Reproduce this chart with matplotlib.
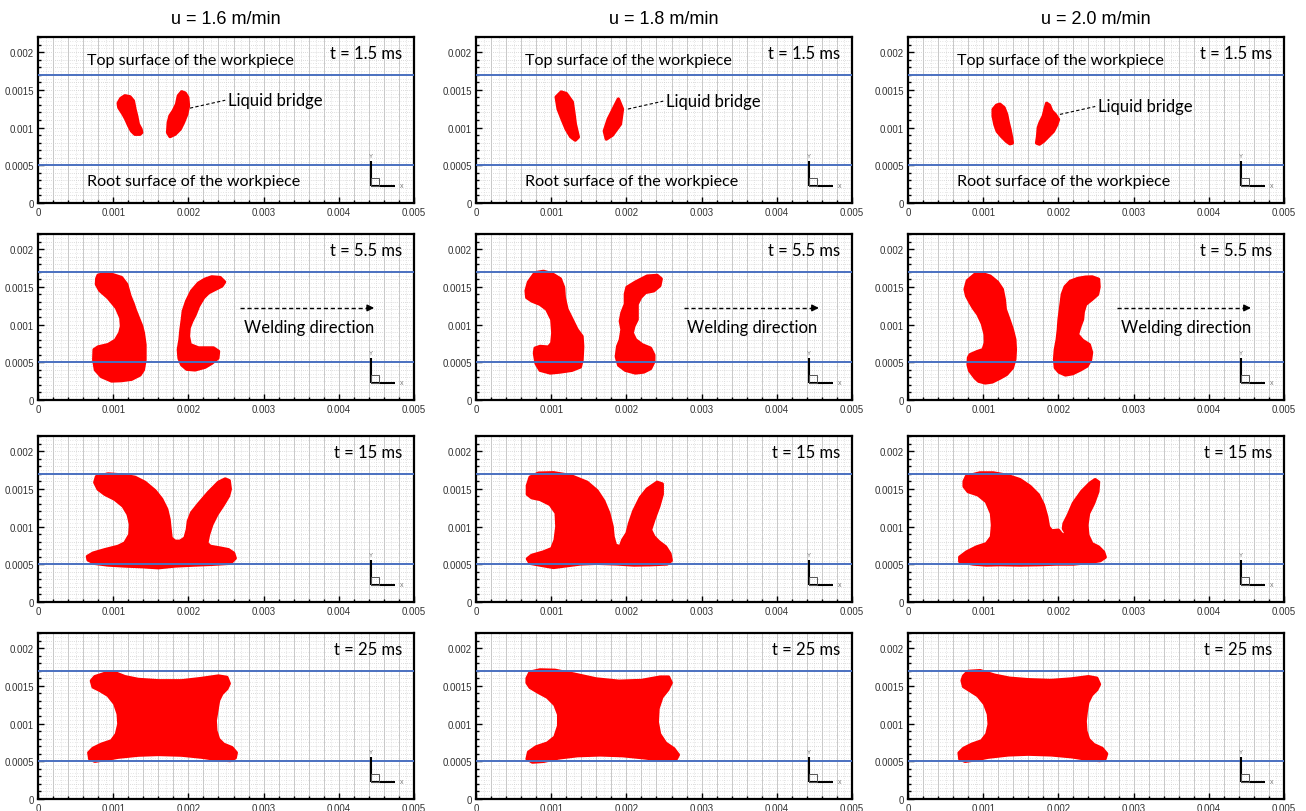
import numpy as np
import matplotlib
matplotlib.use("Agg")
import matplotlib.pyplot as plt
from matplotlib.patches import Polygon, Rectangle
from matplotlib.ticker import FixedLocator, FixedFormatter, MultipleLocator

# ---------------------------------------------------------------------------
# Data
# ---------------------------------------------------------------------------
speeds = ["u = 1.6 m/min", "u = 1.8 m/min", "u = 2.0 m/min"]
times = ["t = 1.5 ms", "t = 5.5 ms", "t = 15 ms", "t = 25 ms"]

x_tick_values = [0, 0.001, 0.002, 0.003, 0.004, 0.005]
x_tick_labels = ["0", "0.001", "0.002", "0.003", "0.004", "0.005"]
y_tick_values = [0, 0.0005, 0.001, 0.0015, 0.002]
y_tick_labels = ["0", "0.0005", "0.001", "0.0015", "0.002"]

top_surface = 0.0017    # m
root_surface = 0.0005   # m

# Molten-pool outlines (x, y) in mm, one list of blobs per panel
u16_t1_5 = [
    [(1.156, 1.420), (1.222, 1.407), (1.267, 1.354), (1.289, 1.243), (1.311, 1.155),
     (1.333, 1.044), (1.369, 0.978), (1.378, 0.934), (1.356, 0.912), (1.289, 0.912),
     (1.244, 0.956), (1.209, 1.022), (1.169, 1.111), (1.133, 1.177), (1.076, 1.265),
     (1.067, 1.323), (1.102, 1.385)],
    [(1.911, 1.473), (1.956, 1.456), (1.991, 1.398), (2.000, 1.288), (1.978, 1.177),
     (1.933, 1.066), (1.889, 0.978), (1.822, 0.912), (1.756, 0.881), (1.724, 0.934),
     (1.733, 1.066), (1.756, 1.155), (1.800, 1.221), (1.844, 1.310), (1.867, 1.420)],
]
u16_t5_5 = [
    [(0.800, 1.653), (0.889, 1.676), (1.000, 1.658), (1.111, 1.622), (1.178, 1.533),
     (1.222, 1.378), (1.267, 1.267), (1.289, 1.200), (1.333, 1.089), (1.378, 0.978),
     (1.400, 0.889), (1.422, 0.733), (1.422, 0.533), (1.400, 0.400), (1.356, 0.333),
     (1.244, 0.276), (1.111, 0.258), (0.978, 0.253), (0.844, 0.311), (0.764, 0.400),
     (0.742, 0.533), (0.747, 0.667), (0.800, 0.702), (0.933, 0.733), (1.031, 0.791),
     (1.089, 0.889), (1.111, 0.978), (1.102, 1.089), (1.044, 1.222), (0.933, 1.356),
     (0.822, 1.453), (0.778, 1.533), (0.782, 1.609)],
    [(2.311, 1.631), (2.422, 1.622), (2.480, 1.564), (2.444, 1.511), (2.356, 1.467),
     (2.267, 1.422), (2.200, 1.356), (2.133, 1.244), (2.089, 1.133), (2.044, 1.044),
     (2.009, 0.956), (2.000, 0.844), (2.022, 0.733), (2.133, 0.689), (2.333, 0.689),
     (2.400, 0.644), (2.391, 0.556), (2.311, 0.489), (2.222, 0.436), (2.089, 0.400),
     (1.978, 0.409), (1.911, 0.467), (1.876, 0.556), (1.867, 0.667), (1.889, 0.800),
     (1.902, 0.933), (1.920, 1.067), (1.933, 1.178), (1.978, 1.311), (2.044, 1.444),
     (2.133, 1.547), (2.222, 1.600)],
]
u16_t15 = [
    [(0.778, 1.661), (0.933, 1.696), (1.111, 1.683), (1.289, 1.652), (1.422, 1.585),
     (1.556, 1.473), (1.644, 1.362), (1.711, 1.228), (1.742, 1.094), (1.756, 0.960),
     (1.769, 0.848), (1.822, 0.804), (1.889, 0.804), (1.956, 0.848), (1.987, 0.960),
     (2.000, 1.071), (2.044, 1.183), (2.133, 1.295), (2.267, 1.451), (2.400, 1.585),
     (2.489, 1.629), (2.542, 1.607), (2.556, 1.496), (2.533, 1.406), (2.467, 1.295),
     (2.378, 1.161), (2.311, 1.027), (2.267, 0.893), (2.244, 0.781), (2.289, 0.737),
     (2.422, 0.714), (2.533, 0.692), (2.600, 0.647), (2.622, 0.580), (2.578, 0.536),
     (2.533, 0.513), (2.311, 0.500), (2.089, 0.491), (1.822, 0.478), (1.600, 0.455),
     (1.378, 0.469), (1.156, 0.478), (0.933, 0.491), (0.756, 0.513), (0.667, 0.558),
     (0.658, 0.603), (0.733, 0.647), (0.889, 0.692), (1.067, 0.737), (1.156, 0.781),
     (1.222, 0.893), (1.231, 1.027), (1.200, 1.161), (1.133, 1.272), (1.022, 1.362),
     (0.889, 1.429), (0.800, 1.496), (0.756, 1.585)],
]
u16_t25 = [
    [(0.756, 1.620), (0.933, 1.678), (1.022, 1.673), (1.156, 1.620), (1.333, 1.584),
     (1.600, 1.566), (1.911, 1.566), (2.178, 1.597), (2.400, 1.629), (2.511, 1.611),
     (2.542, 1.530), (2.511, 1.463), (2.444, 1.396), (2.400, 1.306), (2.378, 1.172),
     (2.356, 1.038), (2.364, 0.904), (2.400, 0.792), (2.467, 0.725), (2.578, 0.680),
     (2.636, 0.613), (2.622, 0.546), (2.556, 0.510), (2.400, 0.523), (2.178, 0.555),
     (1.911, 0.582), (1.600, 0.591), (1.333, 0.582), (1.067, 0.555), (0.889, 0.523),
     (0.756, 0.501), (0.689, 0.532), (0.676, 0.613), (0.733, 0.671), (0.844, 0.725),
     (0.978, 0.770), (1.044, 0.859), (1.076, 0.993), (1.067, 1.127), (1.022, 1.262),
     (0.933, 1.374), (0.822, 1.441), (0.733, 1.485), (0.711, 1.566)],
]

u18_t1_5 = [
    [(1.133, 1.470), (1.200, 1.450), (1.280, 1.338), (1.300, 1.200), (1.320, 1.046),
     (1.360, 0.874), (1.320, 0.834), (1.260, 0.880), (1.200, 0.980), (1.150, 1.100),
     (1.093, 1.245), (1.067, 1.404)],
    [(1.893, 1.377), (1.947, 1.245), (1.920, 1.046), (1.813, 0.900), (1.733, 0.848),
     (1.707, 0.954), (1.760, 1.113), (1.840, 1.272)],
]
u18_t5_5 = [
    [(0.787, 1.686), (0.898, 1.704), (1.009, 1.673), (1.120, 1.605), (1.164, 1.493),
     (1.173, 1.359), (1.209, 1.202), (1.276, 1.067), (1.342, 0.933), (1.409, 0.843),
     (1.418, 0.709), (1.409, 0.529), (1.387, 0.439), (1.276, 0.395), (1.120, 0.372),
     (0.987, 0.359), (0.853, 0.395), (0.800, 0.484), (0.778, 0.619), (0.787, 0.686),
     (0.853, 0.709), (0.964, 0.700), (1.009, 0.753), (1.022, 0.888), (1.009, 1.067),
     (0.942, 1.202), (0.853, 1.269), (0.742, 1.314), (0.676, 1.359), (0.667, 1.448),
     (0.698, 1.561)],
    [(2.276, 1.641), (2.409, 1.650), (2.462, 1.605), (2.444, 1.516), (2.364, 1.448),
     (2.253, 1.426), (2.187, 1.359), (2.142, 1.269), (2.142, 1.157), (2.142, 1.067),
     (2.098, 0.978), (2.076, 0.888), (2.120, 0.798), (2.209, 0.731), (2.320, 0.686),
     (2.364, 0.596), (2.364, 0.507), (2.320, 0.417), (2.231, 0.372), (2.120, 0.359),
     (1.987, 0.395), (1.898, 0.462), (1.867, 0.574), (1.884, 0.709), (1.920, 0.798),
     (1.942, 0.933), (1.920, 1.045), (1.942, 1.157), (1.987, 1.269), (1.987, 1.404),
     (2.009, 1.493), (2.120, 1.561)],
]
u18_t15 = [
    [(0.720, 1.653), (0.831, 1.707), (1.031, 1.712), (1.253, 1.676), (1.476, 1.586),
     (1.609, 1.473), (1.698, 1.338), (1.764, 1.180), (1.809, 1.000), (1.822, 0.865),
     (1.853, 0.752), (1.920, 0.730), (1.951, 0.820), (2.009, 0.910), (2.044, 1.045),
     (2.098, 1.203), (2.187, 1.383), (2.276, 1.495), (2.409, 1.586), (2.476, 1.563),
     (2.476, 1.428), (2.431, 1.270), (2.364, 1.090), (2.320, 0.955), (2.364, 0.865),
     (2.431, 0.797), (2.520, 0.730), (2.578, 0.640), (2.596, 0.550), (2.542, 0.505),
     (2.320, 0.495), (2.098, 0.491), (1.876, 0.505), (1.609, 0.514), (1.387, 0.505),
     (1.209, 0.482), (1.031, 0.459), (0.898, 0.482), (0.720, 0.514), (0.684, 0.572),
     (0.742, 0.617), (0.898, 0.662), (1.009, 0.707), (1.053, 0.820), (1.076, 1.000),
     (1.067, 1.180), (0.987, 1.293), (0.853, 1.360), (0.742, 1.383), (0.684, 1.428),
     (0.684, 1.541)],
]
u18_t25 = [
    [(0.680, 1.600), (0.720, 1.680), (0.850, 1.710), (1.050, 1.705), (1.300, 1.655),
     (1.600, 1.590), (1.900, 1.560), (2.200, 1.570), (2.450, 1.615), (2.560, 1.615),
     (2.595, 1.540), (2.550, 1.450), (2.470, 1.350), (2.420, 1.200), (2.410, 1.020),
     (2.440, 0.860), (2.520, 0.740), (2.630, 0.665), (2.690, 0.585), (2.655, 0.520),
     (2.500, 0.515), (2.250, 0.545), (1.950, 0.575), (1.650, 0.585), (1.350, 0.575),
     (1.100, 0.545), (0.900, 0.500), (0.750, 0.490), (0.680, 0.530), (0.700, 0.620),
     (0.800, 0.690), (0.950, 0.740), (1.050, 0.820), (1.100, 0.970), (1.100, 1.120),
     (1.050, 1.250), (0.950, 1.350), (0.820, 1.420), (0.720, 1.480), (0.680, 1.540)],
]

u20_t1_5 = [
    [(1.178, 1.295), (1.222, 1.308), (1.276, 1.263), (1.311, 1.174), (1.333, 1.063),
     (1.356, 0.973), (1.378, 0.862), (1.387, 0.795), (1.356, 0.786), (1.311, 0.817),
     (1.244, 0.884), (1.187, 0.951), (1.156, 1.040), (1.133, 1.152), (1.133, 1.241)],
    [(1.844, 1.321), (1.880, 1.295), (1.911, 1.219), (1.956, 1.174), (2.000, 1.107),
     (1.978, 1.040), (1.933, 0.951), (1.867, 0.884), (1.800, 0.817), (1.747, 0.781),
     (1.711, 0.795), (1.724, 0.884), (1.733, 0.996), (1.756, 1.063), (1.800, 1.152),
     (1.822, 1.241)],
]
u20_t5_5 = [
    [(0.893, 1.667), (1.000, 1.670), (1.093, 1.640), (1.190, 1.560), (1.253, 1.467),
     (1.280, 1.330), (1.293, 1.200), (1.340, 1.070), (1.387, 0.933), (1.420, 0.800),
     (1.427, 0.667), (1.420, 0.540), (1.387, 0.427), (1.310, 0.340), (1.227, 0.293),
     (1.120, 0.240), (1.027, 0.227), (0.940, 0.250), (0.893, 0.293), (0.820, 0.390),
     (0.800, 0.467), (0.805, 0.560), (0.827, 0.600), (0.920, 0.640), (1.000, 0.667),
     (1.030, 0.760), (1.027, 0.867), (0.990, 1.010), (0.933, 1.133), (0.870, 1.220),
     (0.827, 1.293), (0.780, 1.380), (0.760, 1.467), (0.790, 1.580)],
    [(2.360, 1.627), (2.450, 1.630), (2.533, 1.600), (2.540, 1.500), (2.520, 1.400),
     (2.440, 1.330), (2.360, 1.267), (2.330, 1.170), (2.320, 1.067), (2.280, 0.960),
     (2.253, 0.867), (2.320, 0.790), (2.410, 0.733), (2.440, 0.630), (2.427, 0.533),
     (2.380, 0.450), (2.293, 0.400), (2.190, 0.350), (2.093, 0.333), (2.010, 0.370),
     (1.960, 0.427), (1.950, 0.540), (1.960, 0.667), (1.985, 0.800), (2.000, 0.933),
     (2.010, 1.070), (2.027, 1.200), (2.053, 1.400), (2.090, 1.500), (2.160, 1.573),
     (2.260, 1.610)],
]
u20_t15 = [
    [(0.778, 1.665), (0.956, 1.710), (1.133, 1.710), (1.311, 1.679), (1.489, 1.621),
     (1.622, 1.531), (1.733, 1.420), (1.800, 1.286), (1.844, 1.129), (1.867, 0.996),
     (1.911, 0.942), (2.000, 0.951), (2.036, 0.906), (2.076, 0.875), (2.098, 0.920),
     (2.067, 0.973), (2.076, 1.040), (2.133, 1.152), (2.200, 1.308), (2.311, 1.464),
     (2.422, 1.576), (2.489, 1.621), (2.533, 1.589), (2.524, 1.464), (2.467, 1.308),
     (2.400, 1.174), (2.378, 1.018), (2.391, 0.884), (2.444, 0.772), (2.533, 0.728),
     (2.600, 0.661), (2.622, 0.594), (2.556, 0.549), (2.422, 0.527), (2.200, 0.504),
     (1.978, 0.504), (1.756, 0.496), (1.489, 0.491), (1.222, 0.496), (1.044, 0.491),
     (0.867, 0.504), (0.689, 0.536), (0.689, 0.594), (0.778, 0.661), (0.911, 0.728),
     (1.044, 0.772), (1.111, 0.862), (1.124, 1.018), (1.111, 1.174), (1.044, 1.330),
     (0.933, 1.420), (0.800, 1.464), (0.747, 1.531), (0.747, 1.598)],
]
u20_t25 = [
    [(0.740, 1.630), (0.800, 1.690), (0.960, 1.700), (1.150, 1.640), (1.350, 1.600),
     (1.600, 1.580), (1.900, 1.570), (2.170, 1.590), (2.400, 1.620), (2.510, 1.600),
     (2.545, 1.520), (2.510, 1.450), (2.440, 1.380), (2.390, 1.280), (2.370, 1.160),
     (2.355, 1.030), (2.364, 0.900), (2.400, 0.790), (2.470, 0.720), (2.580, 0.670),
     (2.640, 0.600), (2.620, 0.535), (2.550, 0.510), (2.400, 0.525), (2.180, 0.560),
     (1.910, 0.585), (1.600, 0.595), (1.333, 0.585), (1.067, 0.555), (0.889, 0.520),
     (0.760, 0.500), (0.690, 0.530), (0.680, 0.610), (0.740, 0.670), (0.850, 0.725),
     (0.980, 0.770), (1.050, 0.860), (1.080, 0.990), (1.070, 1.125), (1.020, 1.260),
     (0.930, 1.370), (0.820, 1.440), (0.740, 1.490), (0.720, 1.570)],
]

pools = [
    [u16_t1_5, u18_t1_5, u20_t1_5],
    [u16_t5_5, u18_t5_5, u20_t5_5],
    [u16_t15, u18_t15, u20_t15],
    [u16_t25, u18_t25, u20_t25],
]

# ---------------------------------------------------------------------------
# Layout / style
# ---------------------------------------------------------------------------
W, H = 1306, 812
col_left = [38, 476, 908]
col_width = 376
row_top = [38, 235, 437, 634]
row_height = 166

RED = "#ff0000"
BLUE = "#4a70c0"
GRID_SOLID = "#c8c8c8"
GRID_DOT = "#cfcfcf"
MM = 1e-3
ANNOT_FONT = ["Lato", "DejaVu Sans"]
TICK_FONT = ["Liberation Sans", "DejaVu Sans"]

fig = plt.figure(figsize=(W / 100, H / 100), dpi=100)


def style_axes(ax):
    ax.set_xlim(0, 0.005)
    ax.set_ylim(0, 0.0022)
    # background grid: solid every 0.2 mm / dotted in-between (x), dotted rows (y)
    for xv in np.arange(0.0002, 0.005, 0.0002):
        ax.axvline(xv, color=GRID_SOLID, lw=0.7, zorder=0)
    for xv in np.arange(0.0001, 0.005, 0.0002):
        ax.axvline(xv, color=GRID_DOT, lw=0.5, ls=(0, (1, 2)), zorder=0)
    for yv in np.arange(0.0001, 0.0022, 0.0001):
        ax.axhline(yv, color=GRID_DOT, lw=0.6, ls=(0, (1, 1.5)), zorder=0)
    for yv in np.arange(0.00005, 0.0022, 0.0001):
        ax.axhline(yv, color=GRID_DOT, lw=0.5, ls=(0, (1, 2.5)), zorder=0)

    ax.xaxis.set_major_locator(FixedLocator(x_tick_values))
    ax.xaxis.set_major_formatter(FixedFormatter(x_tick_labels))
    ax.yaxis.set_major_locator(FixedLocator(y_tick_values))
    ax.yaxis.set_major_formatter(FixedFormatter(y_tick_labels))
    ax.xaxis.set_minor_locator(MultipleLocator(0.0002))
    ax.yaxis.set_minor_locator(MultipleLocator(0.0001))
    ax.tick_params(which="both", direction="in", top=False, right=False,
                   color="black", width=1.0)
    ax.tick_params(which="major", length=4, labelsize=7, pad=3, labelcolor="#333333")
    ax.tick_params(which="minor", length=2.5)
    for lab in ax.get_xticklabels() + ax.get_yticklabels():
        lab.set_fontfamily(TICK_FONT)
    for sp in ax.spines.values():
        sp.set_linewidth(1.6)
        sp.set_color("black")


def draw_triad(ax):
    x0, y0 = 0.00443, 0.00023
    ax.plot([x0, x0], [y0, 0.00056], color="black", lw=1.5, zorder=4,
            solid_capstyle="butt")
    ax.plot([x0, 0.00475], [y0, y0], color="black", lw=1.5, zorder=4,
            solid_capstyle="butt")
    ax.add_patch(Rectangle((x0, y0), 0.0001, 0.0001, fill=False,
                           edgecolor="#555555", lw=0.7, zorder=4))
    ax.text(x0, 0.0006, "Y", fontsize=4.5, color="#777777", ha="center",
            va="bottom", family=TICK_FONT, zorder=4)
    ax.text(0.00481, y0, "x", fontsize=5, color="#777777", ha="left",
            va="center", family=TICK_FONT, zorder=4)


for r in range(4):
    for c in range(3):
        left = col_left[c] / W
        bottom = 1 - (row_top[r] + row_height) / H
        ax = fig.add_axes([left, bottom, col_width / W, row_height / H])
        style_axes(ax)

        for blob in pools[r][c]:
            pts = np.array(blob) * MM
            ax.add_patch(Polygon(pts, closed=True, facecolor=RED, edgecolor=RED,
                                 lw=2.5, joinstyle="round", zorder=2))

        ax.axhline(top_surface, color=BLUE, lw=1.4, zorder=3)
        ax.axhline(root_surface, color=BLUE, lw=1.4, zorder=3)
        draw_triad(ax)

        ax.text(0.00484, 0.00199, times[r], fontsize=12, family=ANNOT_FONT,
                ha="right", va="center", zorder=5)

        if r == 0:
            ax.text(0.00065, 0.0019, "Top surface of the workpiece", fontsize=11.6,
                    family=ANNOT_FONT, ha="left", va="center", zorder=5)
            ax.text(0.00065, 0.00029, "Root surface of the workpiece", fontsize=11.6,
                    family=ANNOT_FONT, ha="left", va="center", zorder=5)
            lead_y = [1.257, 1.245, 1.174][c]
            ax.plot([0.00202, 0.00249], [lead_y * MM, (lead_y + 0.105) * MM],
                    color="black", lw=0.8, ls=(0, (3, 2)), zorder=5)
            ax.text(0.00253, (lead_y + 0.108) * MM, "Liquid bridge", fontsize=12,
                    family=ANNOT_FONT, ha="left", va="center", zorder=5)

        if r == 1:
            x_start = [0.00269, 0.00276, 0.00278][c]
            x_end = [0.00447, 0.00456, 0.00456][c]
            ya = 0.00122
            ax.plot([x_start, x_end - 0.00008], [ya, ya], color="black", lw=1.0,
                    ls=(0, (3, 2)), zorder=5)
            ax.annotate("", xy=(x_end, ya), xytext=(x_end - 0.0001, ya),
                        arrowprops=dict(arrowstyle="-|>", color="black", lw=1.0,
                                        mutation_scale=10, shrinkA=0, shrinkB=0),
                        zorder=5)
            ax.text(x_start + 0.00005, 0.00097, "Welding direction", fontsize=12,
                    family=ANNOT_FONT, ha="left", va="center", zorder=5)

for c in range(3):
    cx = (col_left[c] + col_width / 2) / W
    fig.text(cx, 1 - 19 / H, speeds[c], fontsize=13, family=TICK_FONT,
             ha="center", va="center")

fig.savefig("out.png", dpi=100, facecolor="white")
